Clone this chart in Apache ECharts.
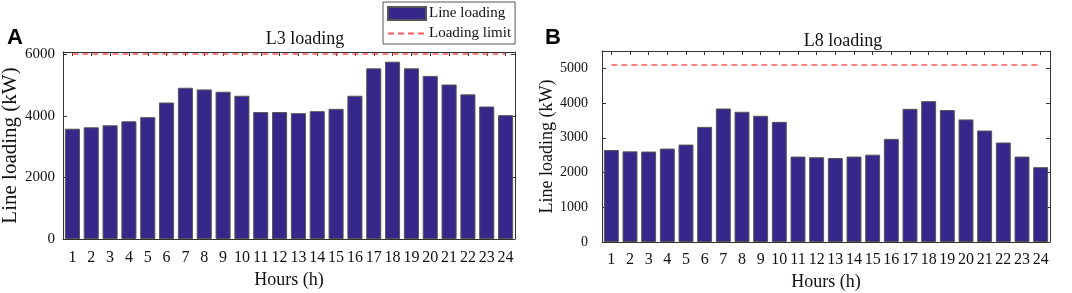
<!DOCTYPE html>
<html>
<head>
<meta charset="utf-8">
<script src="https://cdn.jsdelivr.net/npm/echarts@6/dist/echarts.min.js"></script>
<style>
  html, body { margin: 0; padding: 0; background: #fff; }
  #chart { width: 1072px; height: 293px; }
</style>
</head>
<body>
<div id="chart"></div>
<script>
// hours on the x axis
const hours = ['1', '2', '3', '4', '5', '6', '7', '8', '9', '10', '11', '12',
  '13', '14', '15', '16', '17', '18', '19', '20', '21', '22', '23', '24']
// line loading (kW)
const loadL3 = [3580, 3625, 3690, 3820, 3955, 4430, 4910, 4855, 4780, 4650, 4120, 4120,
  4085, 4150, 4225, 4650, 5540, 5755, 5540, 5295, 5015, 4695, 4300, 4020]
const loadL8 = [2650, 2610, 2605, 2690, 2805, 3315, 3845, 3750, 3635, 3460, 2460, 2440,
  2420, 2460, 2515, 2970, 3835, 4055, 3800, 3530, 3210, 2865, 2460, 2155]
// loading limits (kW)
const limitL3 = 6000
const limitL8 = 5100

const serif = 'Liberation Serif'
const axisColor = '#333'
const barColor = '#35288a'
const limitColor = '#ff5a5a'

function xAxes (g, gap, margin) {
  return [
    {
      type: 'category', gridIndex: g, data: hours, position: 'bottom',
      name: 'Hours (h)', nameLocation: 'middle', nameGap: gap,
      nameTextStyle: {fontFamily: serif, fontSize: 18, color: '#111'},
      axisLine: {onZero: false, lineStyle: {color: axisColor}},
      axisTick: {show: false},
      axisLabel: {fontFamily: serif, fontSize: 16, color: '#111', margin: margin, interval: 0}
    },
    {
      type: 'category', gridIndex: g, data: hours, position: 'top',
      axisLine: {onZero: false, lineStyle: {color: axisColor}},
      axisTick: {show: true, inside: true, alignWithLabel: true, length: 4, lineStyle: {color: axisColor}},
      axisLabel: {show: false}
    }
  ]
}

function yAxes (g, max, interval, gap, nameSize, labelSize, margin) {
  return [
    {
      type: 'value', gridIndex: g, min: 0, max: max, interval: interval, position: 'left',
      name: 'Line loading (kW)', nameLocation: 'middle', nameGap: gap,
      nameTextStyle: {fontFamily: serif, fontSize: nameSize, color: '#111'},
      axisLine: {show: true, onZero: false, lineStyle: {color: axisColor}},
      axisTick: {show: true, inside: true, length: 4, lineStyle: {color: axisColor}},
      axisLabel: {fontFamily: serif, fontSize: labelSize, color: '#111', margin: margin,
        showMaxLabel: false, formatter: v => String(v)},
      splitLine: {show: false}
    },
    {
      type: 'value', gridIndex: g, min: 0, max: max, interval: interval, position: 'right',
      axisLine: {show: true, onZero: false, lineStyle: {color: axisColor}},
      axisTick: {show: true, inside: true, length: 4, lineStyle: {color: axisColor}},
      axisLabel: {show: false},
      splitLine: {show: false}
    }
  ]
}

function barSeries (xi, yi, data) {
  return {
    name: 'Line loading', type: 'bar', xAxisIndex: xi, yAxisIndex: yi, data: data,
    barCategoryGap: '20%',
    itemStyle: {color: barColor, borderColor: '#555', borderWidth: 1},
    silent: true
  }
}

function limitSeries (xi, yi, limit) {
  return {
    name: 'Loading limit', type: 'line', xAxisIndex: xi, yAxisIndex: yi, data: [],
    lineStyle: {color: limitColor, type: [6, 4], width: 1.5},
    itemStyle: {color: limitColor},
    symbol: 'none', showSymbol: false,
    markLine: {
      silent: true, symbol: 'none', label: {show: false},
      lineStyle: {color: limitColor, type: [6, 4], width: 1.5},
      data: [[{coord: [hours[0], limit]}, {coord: [hours[hours.length - 1], limit]}]]
    }
  }
}

const chart = echarts.init(document.getElementById('chart'), null, {renderer: 'canvas'})
chart.setOption({
  animation: false,
  backgroundColor: '#fff',
  title: [
    {text: 'L3 loading', left: 300, top: 25, textAlign: 'center',
      textStyle: {fontFamily: serif, fontSize: 18, fontWeight: 'normal', color: '#111'}},
    {text: 'L8 loading', left: 838, top: 27, textAlign: 'center',
      textStyle: {fontFamily: serif, fontSize: 18, fontWeight: 'normal', color: '#111'}},
    {text: 'A', left: 2, top: 22,
      textStyle: {fontFamily: 'Liberation Sans', fontSize: 22, fontWeight: 'bold', color: '#000'}},
    {text: 'B', left: 540, top: 22,
      textStyle: {fontFamily: 'Liberation Sans', fontSize: 22, fontWeight: 'bold', color: '#000'}}
  ],
  legend: {
    data: [
      {name: 'Line loading', icon: 'rect'},
      {name: 'Loading limit', itemStyle: {opacity: 0}}
    ],
    orient: 'vertical', left: 383, top: 2,
    itemWidth: 38, itemHeight: 13, itemGap: 5,
    padding: [4, 4, 3, 4],
    borderColor: '#555', borderWidth: 1,
    backgroundColor: '#fff',
    textStyle: {fontFamily: serif, fontSize: 15, color: '#111', padding: [0, 0, 0, -2]},
    selectedMode: false
  },
  grid: [
    {left: 63, right: 557, top: 52, height: 187, outerBoundsMode: 'none'},
    {left: 602, right: 22, top: 51, height: 191, outerBoundsMode: 'none'}
  ],
  xAxis: xAxes(0, 30, 11).concat(xAxes(1, 29, 10)),
  yAxis: yAxes(0, 6070, 2000, 42, 21, 15, 8).concat(yAxes(1, 5500, 1000, 46, 18, 14, 14)),
  series: [
    barSeries(0, 0, loadL3),
    limitSeries(0, 0, limitL3),
    barSeries(2, 2, loadL8),
    limitSeries(2, 2, limitL8)
  ]
})
</script>
</body>
</html>
